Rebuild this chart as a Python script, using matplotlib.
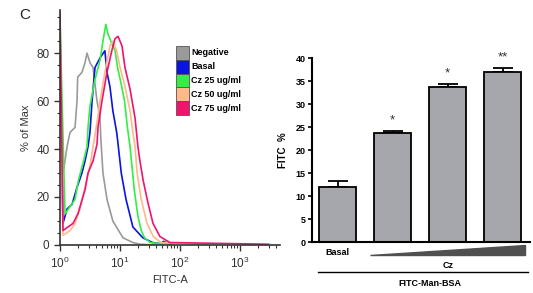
import numpy as np
import matplotlib
matplotlib.use('Agg')
import matplotlib.pyplot as plt
from matplotlib.patches import Patch, Polygon
from matplotlib.ticker import MultipleLocator, LogLocator, NullFormatter
import matplotlib.transforms as mtransforms

plt.rcParams['font.family'] = ['Liberation Sans', 'DejaVu Sans']

# ---- histogram data (FITC-A, % of Max) ----
neg_x = [1.0, 1.12, 1.21, 1.31, 1.47, 1.78, 1.92, 1.97, 2.32, 2.61, 2.82, 3.16, 3.55, 3.83, 4.14, 4.64,
         4.8, 5.2, 6.07, 7.6, 11.2, 16.4, 21.5, 40]
neg_y = [78, 30, 35, 41, 47, 49, 60, 70, 72, 76, 80, 76, 74, 67, 60, 53,
         44, 30, 19, 10, 3, 1, 0.3, 0]

bas_x = [1.0, 1.12, 1.31, 1.59, 1.92, 2.32, 2.61, 2.93, 3.16, 3.42, 3.83, 4.64, 5.6, 6.07, 6.8, 7.6,
         8.8, 9.1, 10.5, 12.6, 16.4, 24, 35, 48, 53, 70]
bas_y = [90, 9, 15, 17, 24, 30, 35, 41, 47, 60, 74, 78, 81, 72, 66, 56,
         47, 44, 30, 19, 7.5, 3, 1, 0.5, 1.5, 0.3]

c25_x = [1.0, 1.21, 1.47, 1.78, 2.03, 2.47, 2.82, 2.93, 3.16, 3.83, 4.64, 5.2, 5.8, 6.3, 7.3, 8.3,
         9.1, 10.5, 11.9, 13.3, 14.7, 15.8, 17.3, 19.9, 22.6, 25.6, 32, 48, 100, 200]
c25_y = [94, 13, 16, 19, 27, 35, 41, 49, 58, 69, 77, 85, 92, 88, 84, 81,
         74, 67, 60, 49, 41, 33, 23, 12, 6, 3, 1, 0.5, 0.8, 0.3]

c50_x = [1.0, 1.12, 1.47, 1.78, 2.15, 2.61, 3.16, 3.55, 4.14, 4.64, 5.6, 6.8, 7.6, 8.8, 10.0, 11.9,
         14.7, 16.4, 17.8, 19.3, 22.6, 28.2, 35.9, 48, 120, 300]
c50_y = [88, 4, 6, 9, 15, 24, 33, 41, 51, 60, 72, 83, 85, 81, 74, 67,
         56, 47, 41, 30, 19, 9, 3.5, 1, 0.8, 0.3]

c75_x = [1.0, 1.12, 1.36, 1.65, 1.99, 2.61, 2.93, 3.55, 4.14, 4.3, 5.0, 6.07, 7.3, 8.25, 9.26, 10.8,
         12.1, 14.7, 17.8, 19.9, 21.5, 24.3, 29.3, 35.5, 46.4, 68, 200, 1000, 3000]
c75_y = [97, 6, 7.5, 9, 13, 23, 30, 35, 42, 49, 60, 72, 81, 86, 87, 83,
         74, 65, 53, 41, 35, 27, 17.5, 9, 3.5, 1, 0.8, 0.5, 0.3]

hist_labels = ['Negative', 'Basal', 'Cz 25 ug/ml', 'Cz 50 ug/ml', 'Cz 75 ug/ml']
hist_colors = ['#9a9a9a', '#0a14e0', '#33ee44', '#ffb98a', '#f0146e']

# ---- bar data ----
bar_labels = ['Basal', 'Cz 25', 'Cz 50', 'Cz 75']
bar_vals = [12.0, 23.6, 33.7, 37.0]
bar_err = [1.2, 0.5, 0.7, 0.8]
bar_sig = ['', '*', '*', '**']

fig = plt.figure(figsize=(5.33, 2.93), dpi=100)

# ---------------- left: histograms ----------------
ax = fig.add_axes([0.1126, 0.164, 0.413, 0.802])
series = [(neg_x, neg_y), (bas_x, bas_y), (c25_x, c25_y), (c50_x, c50_y), (c75_x, c75_y)]
for (xs, ys), col in zip(series, hist_colors):
    ax.plot(xs, ys, color=col, lw=1.2)
ax.set_xscale('log')
ax.set_xlim(1, 10 ** 3.67)
ax.set_ylim(0, 98)
ax.set_yticks([0, 20, 40, 60, 80])
ax.yaxis.set_minor_locator(MultipleLocator(5))
ax.xaxis.set_minor_locator(LogLocator(base=10, subs=np.arange(2, 10)))
ax.xaxis.set_minor_formatter(NullFormatter())
for s in ['top', 'right']:
    ax.spines[s].set_visible(False)
for s in ['left', 'bottom']:
    ax.spines[s].set_color('#333333')
    ax.spines[s].set_linewidth(1.2)
ax.tick_params(which='major', length=4, width=1, color='#333333', labelsize=8.5, labelcolor='#333333')
ax.tick_params(which='minor', length=2.5, width=0.8, color='#333333')
ax.set_ylabel('% of Max', fontsize=8, color='#333333', labelpad=4)
ax.set_xlabel('FITC-A', fontsize=8, color='#333333', labelpad=3)
ax.patch.set_alpha(0)

handles = [Patch(facecolor=c, edgecolor='#555555', lw=0.6) for c in hist_colors]
leg = ax.legend(handles, hist_labels, loc='upper left', bbox_to_anchor=(0.5, 0.875),
                frameon=False, prop={'weight': 'bold', 'size': 6.5},
                handlelength=1.4, handleheight=2.0, handletextpad=0.25, labelspacing=0.0,
                borderpad=0.2)

fig.text(0.037, 0.95, 'C', fontsize=11, color='#222222', va='center')

# ---------------- right: bars ----------------
ax2 = fig.add_axes([0.585, 0.174, 0.409, 0.628])
pos = np.arange(len(bar_vals))
ax2.bar(pos, bar_vals, width=0.67, color='#a6a6ad', edgecolor='black', lw=1.3, zorder=2)
ax2.errorbar(pos, bar_vals, yerr=[np.zeros(len(bar_err)), bar_err], fmt='none',
             ecolor='black', elinewidth=1.3, capsize=7, capthick=1.3, zorder=1)
for p, v, e, s in zip(pos, bar_vals, bar_err, bar_sig):
    if s:
        ax2.text(p, v + e + 1.0, s, ha='center', va='bottom', fontsize=9.5, color='#333333')
ax2.set_xlim(-0.47, 3.49)
ax2.set_ylim(0, 40)
ax2.set_yticks(np.arange(0, 41, 5))
ax2.set_xticks([])
for s in ['top', 'right']:
    ax2.spines[s].set_visible(False)
for s in ['left', 'bottom']:
    ax2.spines[s].set_linewidth(1.5)
ax2.tick_params(axis='y', length=3, width=1.2, labelsize=6.5, pad=1.5)
for lab in ax2.get_yticklabels():
    lab.set_fontweight('bold')
ax2.set_ylabel('FITC  %', fontsize=7, fontweight='bold', labelpad=5)
ax2.patch.set_alpha(0)

trans = mtransforms.blended_transform_factory(ax2.transData, ax2.transAxes)
ax2.text(pos[0], -0.055, 'Basal', transform=trans, ha='center', va='center',
         fontsize=6.5, fontweight='bold')
wedge = Polygon([[0.58, -0.071], [3.4, -0.071], [3.4, -0.016]], closed=True,
                transform=trans, facecolor='#505050', edgecolor='#505050', clip_on=False)
ax2.add_patch(wedge)
ax2.text(pos[2], -0.125, 'Cz', transform=trans, ha='center', va='center',
         fontsize=6.5, fontweight='bold')
ax2.plot([-0.36, 3.45], [-0.163, -0.163], transform=trans, color='black', lw=1.0, clip_on=False)
ax2.text(1.68, -0.223, 'FITC-Man-BSA', transform=trans, ha='center', va='center',
         fontsize=6.5, fontweight='bold')

fig.savefig('out.png', dpi=100)
